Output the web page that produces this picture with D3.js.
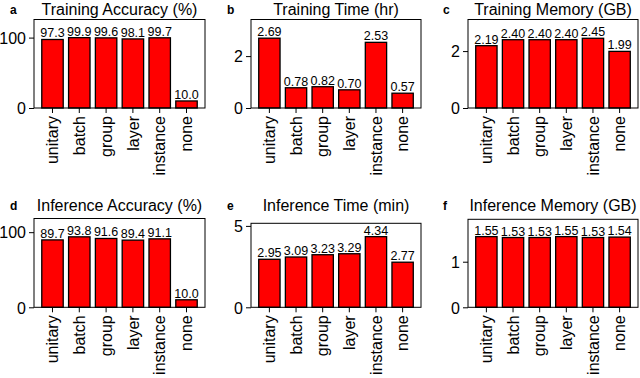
<!DOCTYPE html>
<html>
<head>
<meta charset="utf-8">
<script src="https://cdn.jsdelivr.net/npm/d3@7"></script>
<style>
  body { margin: 0; background: #fff; }
  svg text { font-family: "Liberation Sans", Arial, Helvetica, sans-serif; fill: #000; }
</style>
</head>
<body>
<svg id="chart" width="640" height="378"></svg>
<script>
// categories shared by all six panels
const categories = ["unitary", "batch", "group", "layer", "instance", "none"];

// values per panel
const trainAcc  = [97.3, 99.9, 99.6, 98.1, 99.7, 10.0];
const trainTime = [2.69, 0.78, 0.82, 0.70, 2.53, 0.57];
const trainMem  = [2.19, 2.40, 2.40, 2.40, 2.45, 1.99];
const infAcc    = [89.7, 93.8, 91.6, 89.4, 91.1, 10.0];
const infTime   = [2.95, 3.09, 3.23, 3.29, 4.34, 2.77];
const infMem    = [1.55, 1.53, 1.53, 1.55, 1.53, 1.54];

const titles  = ["Training Accuracy (%)", "Training Time (hr)", "Training Memory (GB)",
                 "Inference Accuracy (%)", "Inference Time (min)", "Inference Memory (GB)"];
const letters = ["a", "b", "c", "d", "e", "f"];
const yTicks  = [[0, 100], [0, 2], [0, 2], [0, 100], [0, 5], [0, 1]];
const labelFmt = [".1f", ".2f", ".2f", ".1f", ".2f", ".2f"];
const series  = [trainAcc, trainTime, trainMem, infAcc, infTime, infMem];

// frame boxes (left, right, top, bottom) and y upper limit for each panel
const layout = [
  {x0: 34,  x1: 205, y0: 19.5,  y1: 108,   yMax: 125.7, lx: 10,  ty: 14.5},
  {x0: 251, x1: 421, y0: 19.5,  y1: 108,   yMax: 3.41,  lx: 227, ty: 14.5},
  {x0: 468, x1: 638, y0: 19.5,  y1: 108,   yMax: 3.11,  lx: 443, ty: 14.5},
  {x0: 34,  x1: 205, y0: 218.5, y1: 307.3, yMax: 118.2, lx: 10,  ty: 210.5},
  {x0: 251, x1: 421, y0: 223.3, y1: 307.3, yMax: 5.16,  lx: 227, ty: 210.5},
  {x0: 468, x1: 638, y0: 219.3, y1: 307.3, yMax: 1.93,  lx: 443, ty: 210.5}
];

const svg = d3.select("#chart");

series.forEach((vals, i) => {
  const L = layout[i];
  const g = svg.append("g");

  const x = d3.scaleBand()
    .domain(categories)
    .range([L.x0, L.x1])
    .paddingInner(0.2)
    .paddingOuter(0.29);

  const y = d3.scaleLinear()
    .domain([0, L.yMax])
    .range([L.y1, L.y0]);

  // bars
  g.selectAll("rect.bar")
    .data(vals)
    .join("rect")
      .attr("class", "bar")
      .attr("x", (d, j) => x(categories[j]))
      .attr("y", d => y(d))
      .attr("width", x.bandwidth())
      .attr("height", d => y(0) - y(d))
      .attr("fill", "#ff0000")
      .attr("stroke", "#000")
      .attr("stroke-width", 1.3);

  // value labels
  g.selectAll("text.val")
    .data(vals)
    .join("text")
      .attr("class", "val")
      .attr("x", (d, j) => x(categories[j]) + x.bandwidth() / 2)
      .attr("y", d => y(d) - 2)
      .attr("text-anchor", "middle")
      .style("font-size", "12.5px")
      .text(d => d3.format(labelFmt[i])(d));

  // frame
  g.append("rect")
    .attr("x", L.x0)
    .attr("y", L.y0)
    .attr("width", L.x1 - L.x0)
    .attr("height", L.y1 - L.y0)
    .attr("fill", "none")
    .attr("stroke", "#000")
    .attr("stroke-width", 1);

  // y axis
  const ya = g.append("g")
    .attr("transform", `translate(${L.x0},0)`)
    .call(d3.axisLeft(y).tickValues(yTicks[i]).tickFormat(d3.format("d")).tickSize(5).tickPadding(3));
  ya.select(".domain").remove();
  ya.selectAll("line").attr("stroke", "#000").attr("stroke-width", 1);
  ya.selectAll("text").style("font-size", "16px").attr("dy", "0.36em");

  // x axis with rotated labels
  const xa = g.append("g")
    .attr("transform", `translate(0,${L.y1})`)
    .call(d3.axisBottom(x).tickSize(5));
  xa.select(".domain").remove();
  xa.selectAll("line").attr("stroke", "#000").attr("stroke-width", 1);
  xa.selectAll("text")
    .style("font-size", "16px")
    .attr("transform", "rotate(-90)")
    .attr("x", -8)
    .attr("y", 0)
    .attr("dy", "0.36em")
    .attr("text-anchor", "end");

  // title and panel letter
  g.append("text")
    .attr("x", (L.x0 + L.x1) / 2)
    .attr("y", L.ty)
    .attr("text-anchor", "middle")
    .style("font-size", "16px")
    .text(titles[i]);

  g.append("text")
    .attr("x", L.lx)
    .attr("y", L.ty - 1)
    .style("font-size", "12px")
    .style("font-weight", "bold")
    .text(letters[i]);
});
</script>
</body>
</html>
